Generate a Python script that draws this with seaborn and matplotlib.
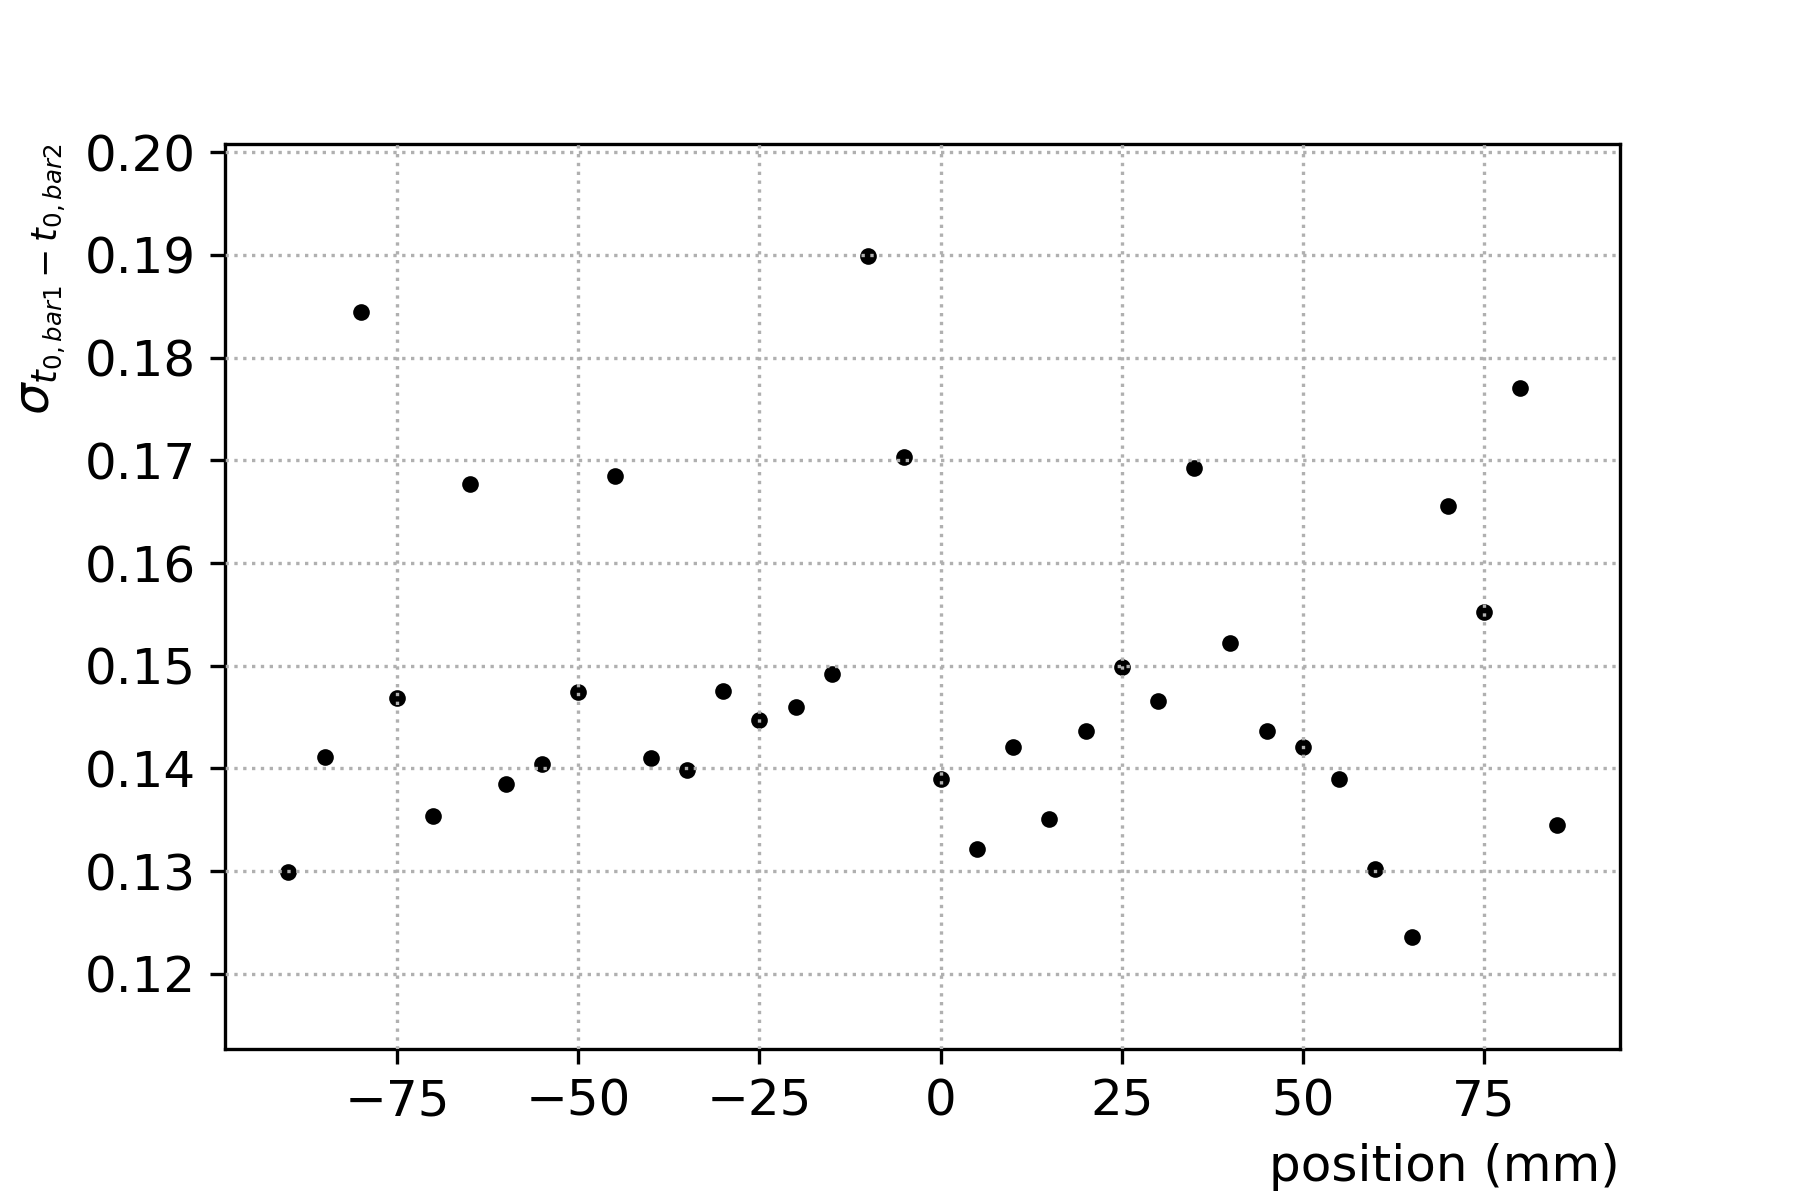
import pandas as pd
import seaborn as sns
import matplotlib.pyplot as plt

# -------- DATA --------
position = [-90, -85, -80, -75, -70, -65, -60, -55, -50, -45, -40, -35,
            -30, -25, -20, -15, -10, -5, 0, 5, 10, 15, 20, 25, 30, 35,
            40, 45, 50, 55, 60, 65, 70, 75, 80, 85]
sigma = [0.1299, 0.1411, 0.1844, 0.1469, 0.1354, 0.1677, 0.1385, 0.1404,
         0.1474, 0.1685, 0.1410, 0.1398, 0.1475, 0.1447, 0.1460, 0.1492,
         0.1899, 0.1703, 0.1390, 0.1322, 0.1421, 0.1351, 0.1436, 0.1499,
         0.1466, 0.1693, 0.1522, 0.1436, 0.1421, 0.1390, 0.1302, 0.1236,
         0.1656, 0.1552, 0.1770, 0.1345]

df = pd.DataFrame({"position": position, "sigma": sigma})

# -------- PLOT --------
plt.rcParams["font.size"] = 12
fig, ax = plt.subplots(figsize=(6, 4), dpi=300)
fig.subplots_adjust(left=0.125, right=0.9, top=0.88, bottom=0.126)

sns.scatterplot(data=df, x="position", y="sigma", color="black",
                s=16, linewidth=0, ax=ax)

ax.set_axisbelow(False)
ax.grid(True, linestyle=":", color="#b0b0b0", linewidth=0.8)
ax.set_ylim(0.1127, 0.2008)
ax.set_yticks([0.12, 0.13, 0.14, 0.15, 0.16, 0.17, 0.18, 0.19, 0.20])

ax.set_xlabel("position (mm)", loc="right")
ax.set_ylabel(r"$\sigma_{t_{0,bar1} - t_{0,bar2}}$", loc="top")

fig.savefig("out.png", dpi=300)
